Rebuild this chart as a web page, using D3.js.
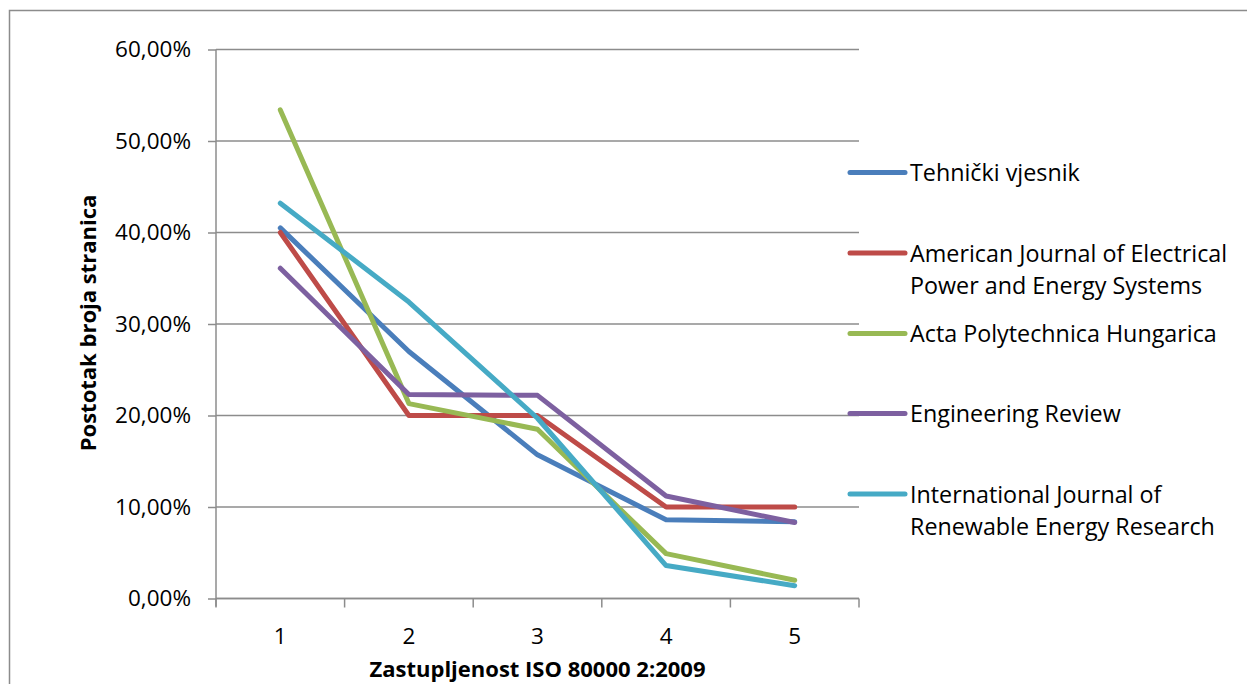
<!DOCTYPE html>
<html>
<head>
<meta charset="utf-8">
<script src="https://cdn.jsdelivr.net/npm/d3@7"></script>
<style>
  body { margin: 0; background: #fff; }
  text { font-family: 'Open Sans', sans-serif; fill: #000; }
</style>
</head>
<body>
<div class="container"></div>
<script>
const categories = ['1', '2', '3', '4', '5']
const seriesNames = [
  ['Tehnički vjesnik'],
  ['American Journal of Electrical', 'Power and Energy Systems'],
  ['Acta Polytechnica Hungarica'],
  ['Engineering Review'],
  ['International Journal of', 'Renewable Energy Research']
]
const tehnickiVjesnik = [0.405, 0.270, 0.157, 0.086, 0.084]
const americanJournal = [0.400, 0.200, 0.200, 0.100, 0.100]
const actaPolytechnica = [0.534, 0.213, 0.185, 0.049, 0.020]
const engineeringReview = [0.361, 0.223, 0.222, 0.112, 0.083]
const internationalJournal = [0.432, 0.324, 0.197, 0.036, 0.014]
const yTicks = [0, 0.1, 0.2, 0.3, 0.4, 0.5, 0.6]
const colors = ['#4a7ebb', '#be4b48', '#98b954', '#7d60a0', '#46aac5']

const series = [tehnickiVjesnik, americanJournal, actaPolytechnica, engineeringReview, internationalJournal]

const w = 1247
const h = 684
const plotLeft = 216
const plotRight = 859
const plotTop = 49.5
const plotBottom = 598.5

const svg = d3.select('.container')
  .append('svg')
  .attr('width', w)
  .attr('height', h)

// outer chart border (runs off the right and bottom of the picture)
svg.append('rect')
  .attr('x', 9.5)
  .attr('y', 10.5)
  .attr('width', 1400)
  .attr('height', 900)
  .attr('fill', 'none')
  .attr('stroke', '#8c8c8c')
  .attr('stroke-width', 1.5)

const xScale = d3.scaleBand()
  .domain(categories)
  .range([plotLeft, plotRight])

const yScale = d3.scaleLinear()
  .domain([0, 0.6])
  .range([plotBottom, plotTop])

const fmt = v => d3.format('.2f')(v * 100).replace('.', ',') + '%'

// y axis ticks + labels
const yAxis = d3.axisLeft(yScale)
  .tickValues(yTicks)
  .tickFormat(fmt)
  .tickSize(8)
  .tickPadding(17)

const gy = svg.append('g')
  .attr('transform', `translate(${plotLeft}, 0)`)
  .call(yAxis)
gy.select('.domain').remove()
gy.selectAll('.tick line').attr('stroke', '#8c8c8c').attr('stroke-width', 1.5)
gy.selectAll('.tick text').attr('font-size', 22.5).attr('font-family', 'Open Sans').attr('fill', '#000')

// gridlines
svg.append('g')
  .selectAll('line')
  .data(yTicks)
  .enter()
  .append('line')
  .attr('x1', plotLeft)
  .attr('x2', plotRight)
  .attr('y1', d => yScale(d))
  .attr('y2', d => yScale(d))
  .attr('stroke', '#8c8c8c')
  .attr('stroke-width', 1.5)

svg.append('line')
  .attr('x1', plotLeft).attr('x2', plotLeft)
  .attr('y1', plotTop).attr('y2', plotBottom + 8)
  .attr('stroke', '#8c8c8c')
  .attr('stroke-width', 1.5)

// x axis
const xTicks = d3.scaleLinear().domain([0, categories.length]).range([plotLeft, plotRight])
const gx = svg.append('g')
  .attr('transform', `translate(0, ${plotBottom})`)
gx.append('line')
  .attr('x1', plotLeft).attr('x2', plotRight)
  .attr('stroke', '#8c8c8c')
  .attr('stroke-width', 1.5)
gx.selectAll('.tk')
  .data(d3.range(categories.length + 1))
  .enter()
  .append('line')
  .attr('x1', d => xTicks(d))
  .attr('x2', d => xTicks(d))
  .attr('y1', 0)
  .attr('y2', 9)
  .attr('stroke', '#8c8c8c')
  .attr('stroke-width', 1.5)
gx.selectAll('.lbl')
  .data(categories)
  .enter()
  .append('text')
  .text(d => d)
  .attr('x', d => xScale(d) + xScale.bandwidth() / 2)
  .attr('y', 45)
  .attr('text-anchor', 'middle')
  .attr('font-size', 22.5)

// lines
const line = d3.line()
  .x((d, i) => xScale(categories[i]) + xScale.bandwidth() / 2)
  .y(d => yScale(d))

svg.append('g')
  .selectAll('path')
  .data(series)
  .enter()
  .append('path')
  .attr('d', d => line(d))
  .attr('fill', 'none')
  .attr('stroke', (d, i) => colors[i])
  .attr('stroke-width', 5)
  .attr('stroke-linejoin', 'round')
  .attr('stroke-linecap', 'round')

// legend
const legendY = [172.5, 253, 333.5, 413.5, 494]
const lg = svg.append('g')
  .selectAll('g')
  .data(seriesNames)
  .enter()
  .append('g')
  .attr('transform', (d, i) => `translate(850, ${legendY[i]})`)
lg.append('line')
  .attr('x1', 0).attr('x2', 55)
  .attr('stroke', (d, i) => colors[i])
  .attr('stroke-width', 5)
  .attr('stroke-linecap', 'round')
lg.each(function (d) {
  const t = d3.select(this).append('text')
    .attr('x', 60)
    .attr('y', 8.5)
    .attr('font-size', 23.3)
  d.forEach((s, j) => {
    t.append('tspan').attr('x', 60).attr('dy', j === 0 ? 0 : 32.5).text(s)
  })
})

// axis titles
svg.append('text')
  .text('Zastupljenost ISO 80000 2:2009')
  .attr('x', (plotLeft + plotRight) / 2)
  .attr('y', 677)
  .attr('text-anchor', 'middle')
  .attr('font-weight', 'bold')
  .attr('font-size', 22)

svg.append('text')
  .text('Postotak broja stranica')
  .attr('transform', `translate(96, ${(plotTop + plotBottom) / 2 - 1}) rotate(-90)`)
  .attr('text-anchor', 'middle')
  .attr('font-weight', 'bold')
  .attr('font-size', 22)
</script>
</body>
</html>
